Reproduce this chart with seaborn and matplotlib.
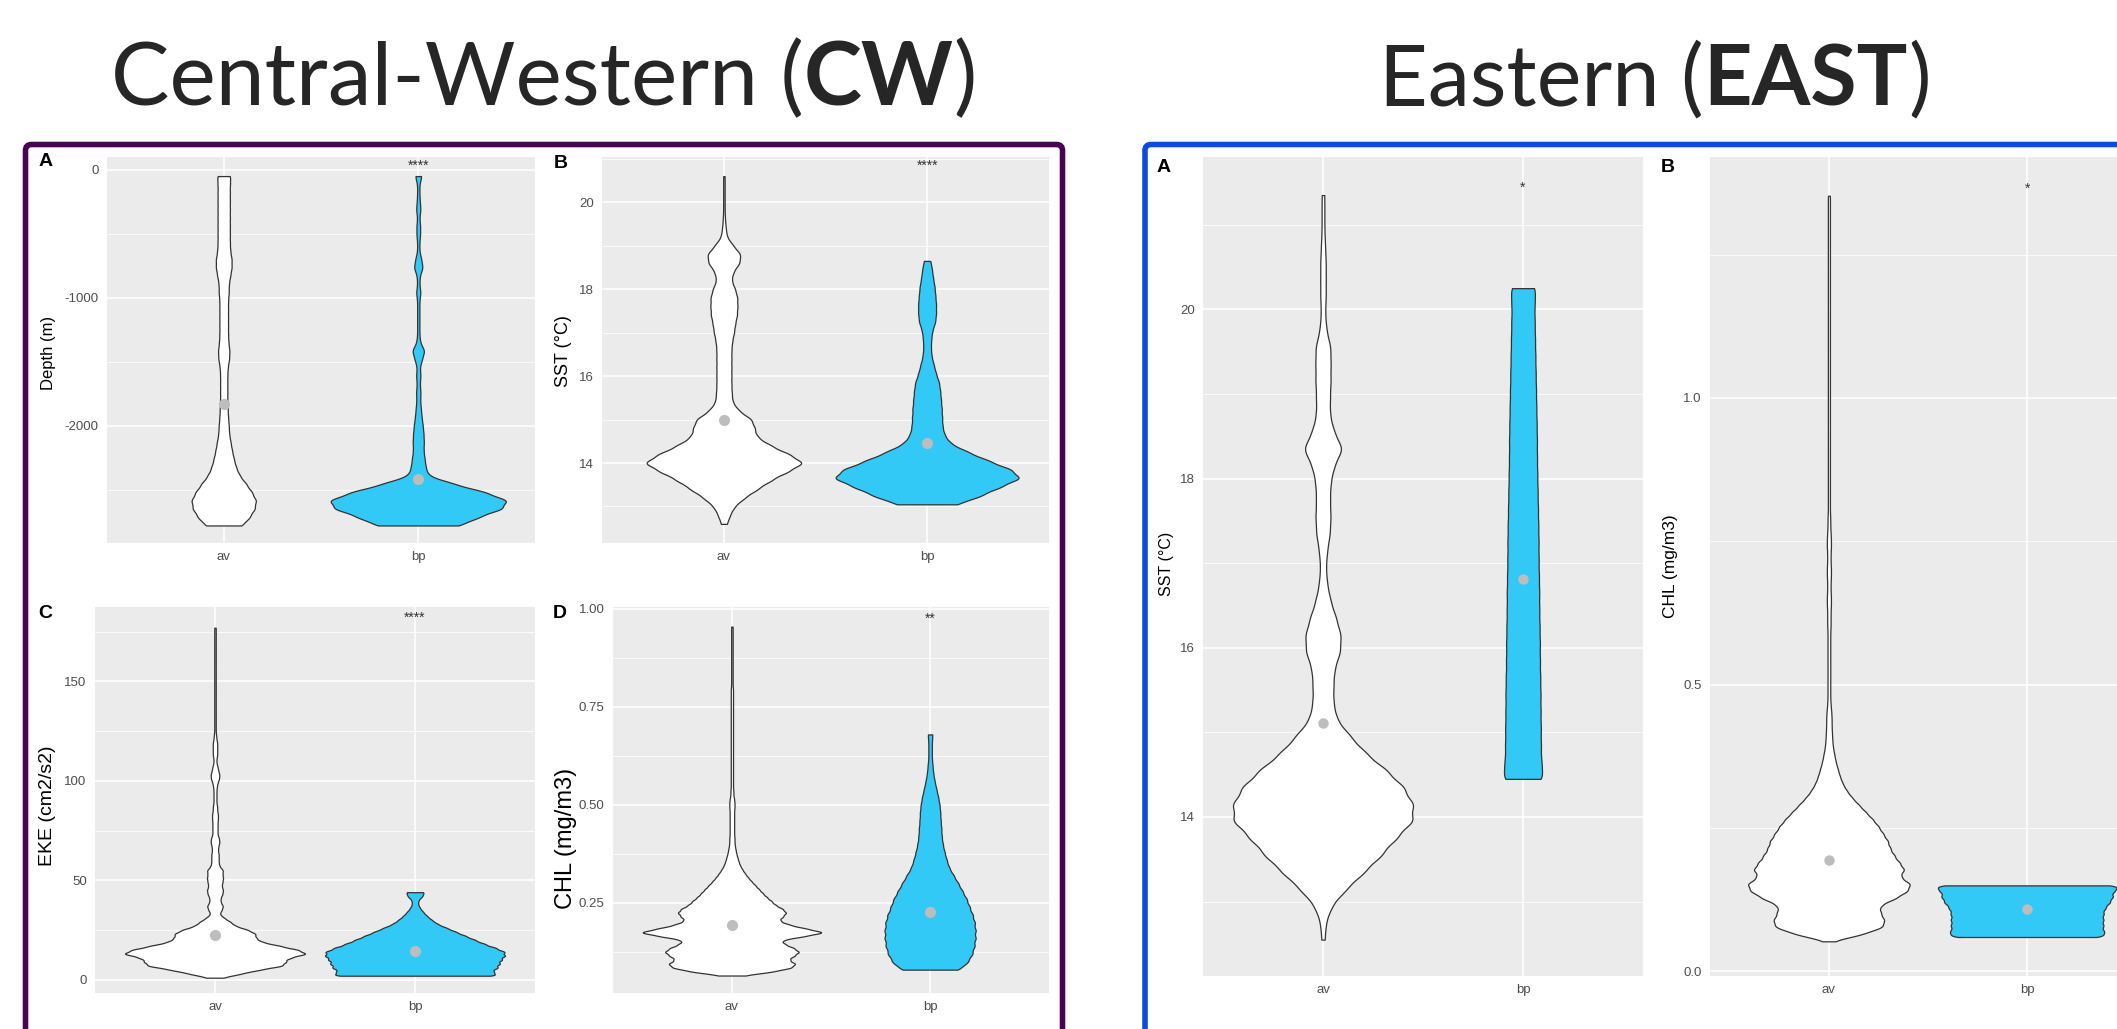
import numpy as np
import matplotlib
matplotlib.use("Agg")
import matplotlib.pyplot as plt
import matplotlib.transforms as mtrans
from matplotlib.patches import FancyBboxPatch
import seaborn as sns

sns.set_style("white")
plt.rcParams["font.family"] = ["Liberation Sans", "DejaVu Sans"]

W, H = 2117, 1029
CATS = ["av", "bp"]

# ---------------- Central-Western (CW) ----------------
depth_bins = [-50, -115, -180, -245, -310, -375, -440, -505, -570, -635, -700,
              -765, -830, -895, -960, -1025, -1090, -1155, -1220, -1285, -1350,
              -1415, -1480, -1545, -1610, -1675, -1740, -1805, -1870, -1935,
              -2000, -2065, -2130, -2195, -2260, -2325, -2390, -2455, -2520,
              -2585, -2650, -2715, -2780]
depth_av_n = [19, 17, 17, 17, 17, 17, 17, 17, 17, 18, 22, 22, 18, 14, 14, 12, 12,
              12, 12, 12, 13, 16, 15, 11, 10, 10, 10, 10, 11, 12, 14, 15, 19, 23,
              28, 34, 44, 62, 78, 90, 86, 72, 52]
depth_bp_n = [9, 3, 3, 4, 6, 3, 5, 5, 3, 3, 8, 12, 4, 3, 6, 3, 3, 3, 3, 3, 5, 17,
              10, 4, 6, 4, 6, 5, 7, 9, 12, 14, 15, 14, 17, 20, 26, 95, 180, 240,
              225, 160, 115]
depth_means = [-1828, -2414]

# B: SST (°C)
sst_cw_av_bins = [12.6, 12.8, 13.0, 13.2, 13.4, 13.6, 13.8, 14.0, 14.2, 14.4, 14.6,
                  14.8, 15.0, 15.2, 15.4, 15.6, 15.8, 16.0, 16.2, 16.4, 16.6, 16.8,
                  17.0, 17.2, 17.4, 17.6, 17.8, 18.0, 18.2, 18.4, 18.6, 18.8, 19.0,
                  19.2, 19.4, 19.6, 19.8, 20.0, 20.2, 20.4, 20.6]
sst_cw_av_n = [8, 16, 28, 55, 90, 125, 170, 215, 175, 125, 88, 82, 75, 40, 23, 21,
               20, 20, 20, 20, 20, 22, 27, 30, 35, 36, 36, 30, 20, 25, 42, 45, 25,
               8, 5, 3, 2, 2, 2, 2, 2]
sst_cw_bp_bins = [13.05, 13.25, 13.45, 13.65, 13.85, 14.05, 14.25, 14.45, 14.65,
                  14.85, 15.05, 15.25, 15.45, 15.65, 15.85, 16.05, 16.25, 16.45,
                  16.65, 16.85, 17.05, 17.25, 17.45, 17.65, 17.85, 18.05, 18.25,
                  18.45, 18.65]
sst_cw_bp_n = [82, 145, 195, 252, 225, 165, 110, 62, 46, 41, 40, 39, 37, 35, 32, 24,
               18, 12, 10, 11, 14, 22, 24, 24, 22, 20, 16, 13, 9]
sst_cw_means = [15.0, 14.46]

# C: EKE (cm2/s2), 2-unit bins
eke_av_bins = [1, 3, 5, 7, 9, 11, 13, 15, 17, 19, 21, 23, 25, 27, 29, 31, 33, 35,
               37, 39, 41, 43, 45, 47, 49, 51, 53, 55, 57, 59, 61, 63, 65, 67, 69,
               71, 73, 75, 77, 79, 81, 83, 85, 87, 89, 91, 93, 95, 97, 99, 101, 103,
               105, 107, 109, 111, 113, 115, 117, 119, 121, 123, 125, 127, 129, 131,
               133, 135, 137, 139, 141, 143, 145, 147, 149, 151, 153, 155, 157, 159,
               161, 163, 165, 167, 169, 171, 173, 175, 177]
eke_av_n = [20, 70, 120, 185, 190, 200, 250, 225, 175, 125, 110, 110, 90, 55, 42,
            25, 12, 18, 22, 15, 15, 20, 22, 18, 20, 22, 20, 22, 12, 10,
            10, 10, 8, 9, 12, 11, 7, 7, 7, 7, 8, 8, 6, 6, 4, 4, 4, 4, 5, 7,
            11, 12, 9, 7, 4, 4, 6, 6, 6, 6, 4, 3,
            2, 2, 2, 2, 2, 2, 2, 2, 2, 2, 2, 2, 2, 2, 2, 2, 2, 2, 2, 2, 2, 2, 2, 2,
            2, 2, 2]
eke_bp_bins = [2, 4, 6, 8, 10, 12, 14, 16, 18, 20, 22, 24, 26, 28, 30, 32, 34, 36,
               38, 40, 42, 44]
eke_bp_n = [230, 205, 220, 225, 230, 240, 240, 215, 185, 160, 135, 110, 85, 60, 45,
            32, 22, 13, 8, 9, 20, 25]
eke_means = [22.6, 14.2]

# D: CHL (mg/m3), 0.01 bins
chl_cw_av_bins = [0.065, 0.075, 0.085, 0.095, 0.105, 0.115, 0.125, 0.135, 0.145,
                  0.155, 0.165, 0.175, 0.185, 0.195, 0.205, 0.215, 0.225, 0.235,
                  0.245, 0.255, 0.265, 0.275, 0.285, 0.295, 0.305, 0.315, 0.325,
                  0.335, 0.345, 0.355, 0.365, 0.375, 0.385, 0.395, 0.405, 0.415,
                  0.425, 0.435, 0.445, 0.455, 0.465, 0.475, 0.485, 0.495, 0.505,
                  0.515, 0.525, 0.535, 0.545, 0.555, 0.565, 0.575, 0.585, 0.595,
                  0.605, 0.615, 0.625, 0.635, 0.645, 0.655, 0.665, 0.675, 0.685,
                  0.695, 0.705, 0.715, 0.725, 0.735, 0.745, 0.755, 0.765, 0.775,
                  0.785, 0.795, 0.805, 0.815, 0.825, 0.835, 0.845, 0.855, 0.865,
                  0.875, 0.885, 0.895, 0.905, 0.915, 0.925, 0.935, 0.945, 0.955]
chl_cw_av_n = [30, 110, 160, 170, 150, 165, 180, 165, 140, 130, 190, 250, 195, 150,
               125, 135, 145, 135, 115, 105, 92, 82, 72, 62, 52, 43, 35, 28, 22, 18,
               15, 12, 10, 8,
               7, 7, 6, 6, 6, 6, 6, 6, 6, 7, 7, 6, 4, 4, 3,
               3, 3, 3, 3, 3, 3, 3, 3, 3, 3, 3, 3, 3, 3, 3, 3, 3, 3, 3, 3, 3, 3, 3,
               3, 3,
               2, 2, 2, 2, 2, 2, 2, 2, 2, 2, 2, 2, 2, 2, 2, 2]
chl_cw_bp_bins = [0.08, 0.10, 0.12, 0.14, 0.16, 0.18, 0.20, 0.22, 0.24, 0.26, 0.28,
                  0.30, 0.32, 0.34, 0.36, 0.38, 0.40, 0.42, 0.44, 0.46, 0.48, 0.50,
                  0.52, 0.54, 0.56, 0.58, 0.60, 0.62, 0.64, 0.66, 0.68]
chl_cw_bp_n = [85, 108, 120, 126, 129, 129, 127, 121, 112, 104, 92, 80, 67, 54, 47,
               41, 36, 33, 32, 30, 29, 27, 23, 18, 13, 9, 7, 5, 5, 5, 7]
chl_cw_means = [0.193, 0.227]

# ---------------- Eastern (EAST) ----------------
sst_e_av_bins = [12.55, 12.75, 12.95, 13.15, 13.35, 13.55, 13.75, 13.95, 14.15,
                 14.35, 14.55, 14.75, 14.95, 15.15, 15.35, 15.55, 15.75, 15.95,
                 16.15, 16.35, 16.55, 16.75, 16.95, 17.15, 17.35, 17.55, 17.75,
                 17.95, 18.15, 18.35, 18.55, 18.75, 18.95, 19.15, 19.35, 19.55,
                 19.75, 19.95, 20.15, 20.35, 20.55, 20.75, 20.95, 21.15, 21.35]
sst_e_av_n = [5, 8, 25, 68, 120, 170, 212, 262, 262, 235, 185, 125, 80, 40, 30, 30,
              33, 50, 52, 38, 22, 12, 8, 12, 20, 22, 20, 22, 32, 58, 32, 20, 20, 22,
              22, 22, 10, 6, 8, 8, 8, 6, 4, 4, 4]
sst_e_bp_bins = [14.45, 14.65, 14.85, 15.05, 15.25, 15.45, 15.65, 15.85, 16.05,
                 16.25, 16.45, 16.65, 16.85, 17.05, 17.25, 17.45, 17.65, 17.85,
                 18.05, 18.25, 18.45, 18.65, 18.85, 19.05, 19.25, 19.45, 19.65,
                 19.85, 20.05, 20.25]
sst_e_bp_n = [64, 56, 55, 55, 54, 54, 53, 52, 52, 51, 50, 50, 49, 48, 48, 47, 46,
              45, 44, 43, 43, 42, 41, 40, 39, 38, 37, 36, 35, 40]
sst_e_means = [15.11, 16.81]

# CHL, 0.0125 bins
chl_e_av_bins = [0.0525, 0.065, 0.0775, 0.09, 0.1025, 0.115, 0.1275, 0.14, 0.1525,
                 0.165, 0.1775, 0.19, 0.2025, 0.215, 0.2275, 0.24, 0.2525, 0.265,
                 0.2775, 0.29, 0.3025, 0.315, 0.3275, 0.34, 0.3525, 0.365, 0.3775,
                 0.39, 0.4025, 0.415, 0.4275, 0.44, 0.4525, 0.465, 0.4775, 0.49,
                 0.5025, 0.515, 0.5275, 0.54, 0.5525, 0.565, 0.5775, 0.59, 0.6025,
                 0.615, 0.6275, 0.64, 0.6525, 0.665, 0.6775, 0.69, 0.7025, 0.715,
                 0.7275, 0.74, 0.7525, 0.765, 0.7775, 0.79, 0.8025, 0.815, 0.8275,
                 0.84, 0.8525, 0.865, 0.8775, 0.89, 0.9025, 0.915, 0.9275, 0.94,
                 0.9525, 0.965, 0.9775, 0.99, 1.0025, 1.015, 1.0275, 1.04, 1.0525,
                 1.065, 1.0775, 1.09, 1.1025, 1.115, 1.1275, 1.14, 1.1525, 1.165,
                 1.1775, 1.19, 1.2025, 1.215, 1.2275, 1.24, 1.2525, 1.265, 1.2775,
                 1.29, 1.3025, 1.315, 1.3275, 1.34, 1.3525]
chl_e_av_n = [8, 100, 160, 162, 150, 148, 195, 230, 240, 205, 222, 205, 190, 178,
              172, 158, 145, 128, 108, 88, 68, 52, 40, 32, 26,
              20, 16, 12, 10, 9, 8, 8, 7, 5, 4,
              4, 4, 4, 4, 4, 4, 4, 4, 4,
              5, 5, 5, 6, 6, 5, 5, 6, 6, 5, 5, 6, 6, 5, 4, 4,
              3, 3, 3, 3, 3, 3, 3, 3, 3, 3, 3, 3, 3, 3, 3, 3, 3, 3, 3, 3, 3, 3, 3,
              3, 3, 3, 3, 3, 3, 3, 3, 3, 3, 3, 3, 3, 3, 3, 3, 3, 3, 3, 3, 3, 3]
chl_e_bp_bins = [0.06, 0.07, 0.08, 0.09, 0.10, 0.11, 0.12, 0.13, 0.14, 0.15]
chl_e_bp_n = [250, 235, 235, 235, 235, 240, 255, 265, 265, 300]
chl_e_means = [0.194, 0.109]

PANEL = "#EBEBEB"
EDGE = "#333333"
BLUE_FILL = "#33C9F7"
MEAN_C = "#BDBDBD"

fig = plt.figure(figsize=(W / 100, H / 100), dpi=100)


def add_ax(left, top, right, bottom):
    return fig.add_axes([left / W, 1 - bottom / H, (right - left) / W, (bottom - top) / H])


def draw_violin(ax, cat, bins, counts, bw, width, fill):
    y = np.repeat(np.array(bins, dtype=float), counts)
    sns.violinplot(x=[cat] * len(y), y=y, order=CATS, ax=ax, cut=0, inner=None,
                   density_norm="width", width=width, bw_method=bw / y.std(ddof=1),
                   gridsize=800, color=fill, saturation=1, linecolor=EDGE,
                   linewidth=0.9)


def finish(ax, means, ylim, ticks, labels, minor, star, star_y, msize):
    sns.stripplot(x=CATS, y=means, order=CATS, jitter=False, color=MEAN_C,
                  size=msize, linewidth=0, ax=ax, zorder=5)
    ax.set_facecolor(PANEL)
    ax.set_xlim(-0.6, 1.6)
    ax.set_ylim(*ylim)
    ax.set_yticks(ticks, labels)
    ax.set_yticks(minor, minor=True)
    ax.set_xticks([0, 1], CATS)
    ax.grid(which="major", color="white", lw=1.1)
    ax.grid(which="minor", axis="y", color="white", lw=0.55)
    ax.set_axisbelow(True)
    for s in ax.spines.values():
        s.set_visible(False)
    ax.tick_params(which="major", length=3.5, width=0.8, color="#333333",
                   labelcolor="#4D4D4D", labelsize=9.5, pad=2.5)
    ax.tick_params(which="minor", length=0)
    ax.set_xlabel("")
    ax.set_ylabel("")
    ax.text(1, star_y, star, ha="center", va="center", fontsize=10, color="#333333")


def fig_text(x, y, s, **kw):
    fig.text(x / W, 1 - y / H, s, ha="center", va="center", **kw)


# CW A
ax = add_ax(107, 157, 535, 543)
draw_violin(ax, "av", depth_bins, depth_av_n, 34, 0.33, "white")
draw_violin(ax, "bp", depth_bins, depth_bp_n, 34, 0.9, BLUE_FILL)
finish(ax, depth_means, (-2917, 99), [-2000, -1000, 0], ["-2000", "-1000", "0"],
       [-2500, -1500, -500], "****", 30, 8)

# CW B
ax = add_ax(602, 157, 1049, 543)
draw_violin(ax, "av", sst_cw_av_bins, sst_cw_av_n, 0.105, 0.76, "white")
draw_violin(ax, "bp", sst_cw_bp_bins, sst_cw_bp_n, 0.105, 0.9, BLUE_FILL)
finish(ax, sst_cw_means, (12.16, 21.04), [14, 16, 18, 20], ["14", "16", "18", "20"],
       [13, 15, 17, 19, 21], "****", 20.84, 8)

# CW C
ax = add_ax(95, 607, 535, 993)
draw_violin(ax, "av", eke_av_bins, eke_av_n, 1.05, 0.9, "white")
draw_violin(ax, "bp", eke_bp_bins, eke_bp_n, 1.05, 0.9, BLUE_FILL)
finish(ax, eke_means, (-6.7, 187.4), [0, 50, 100, 150], ["0", "50", "100", "150"],
       [25, 75, 125, 175], "****", 182, 8)

# CW D
ax = add_ax(613, 607, 1049, 993)
draw_violin(ax, "av", chl_cw_av_bins, chl_cw_av_n, 0.0053, 0.9, "white")
draw_violin(ax, "bp", chl_cw_bp_bins, chl_cw_bp_n, 0.0105, 0.46, BLUE_FILL)
finish(ax, chl_cw_means, (0.0204, 1.005), [0.25, 0.5, 0.75, 1.0],
       ["0.25", "0.50", "0.75", "1.00"], [0.125, 0.375, 0.625, 0.875], "**", 0.975, 8)

# EAST A
ax = add_ax(1203, 157, 1643, 976)
draw_violin(ax, "av", sst_e_av_bins, sst_e_av_n, 0.105, 0.9, "white")
draw_violin(ax, "bp", sst_e_bp_bins, sst_e_bp_n, 0.11, 0.19, BLUE_FILL)
finish(ax, sst_e_means, (12.12, 21.80), [14, 16, 18, 20], ["14", "16", "18", "20"],
       [13, 15, 17, 19, 21], "*", 21.44, 7.5)

# EAST B (runs off the right edge, as in the original)
ax = add_ax(1710, 157, 2146, 976)
draw_violin(ax, "av", chl_e_av_bins, chl_e_av_n, 0.0068, 0.815, "white")
draw_violin(ax, "bp", chl_e_bp_bins, chl_e_bp_n, 0.0055, 0.9, BLUE_FILL)
finish(ax, chl_e_means, (-0.008, 1.42), [0, 0.5, 1.0], ["0.0", "0.5", "1.0"],
       [0.25, 0.75, 1.25], "*", 1.365, 7.5)

# axis titles and panel letters
for x, y, s, fs in [(48, 353, "Depth (m)", 12), (563, 351, "SST (°C)", 13),
                    (48, 806, "EKE (cm2/s2)", 14), (566, 838, "CHL (mg/m3)", 17),
                    (1167, 564, "SST (°C)", 11.5), (1670, 566, "CHL (mg/m3)", 12.5)]:
    fig_text(x, y, s, rotation=90, fontsize=fs, color="black")
for x, y, s in [(46, 162, "A"), (561, 163, "B"), (45, 613, "C"), (560, 613, "D"),
                (1164, 168, "A"), (1668, 168, "B")]:
    fig_text(x, y, s, fontsize=14, fontweight="bold", color="black")

# region frames
ident = mtrans.IdentityTransform()
for x0, x1, col in [(25.5, 1062.5, "#4A0054"), (1145, 2260, "#0A4CDB")]:
    fig.patches.append(FancyBboxPatch((x0, -60), x1 - x0, H - 144.5 + 60,
                                      boxstyle="round,pad=0,rounding_size=6",
                                      fill=False, edgecolor=col, lw=4,
                                      transform=ident, figure=fig))

# titles with a bold abbreviation
renderer = fig.canvas.get_renderer()


def title(cx, base_y, parts, target_w):
    txts = [fig.text(0, 1 - base_y / H, s, fontsize=60, fontweight=wt,
                     family=["Lato", "DejaVu Sans"], va="baseline") for s, wt in parts]
    total = sum(t.get_window_extent(renderer).width for t in txts)
    k = target_w / total
    x = cx - target_w / 2
    for t in txts:
        t.set_fontsize(60 * k)
        t.set_x(x / W)
        x += t.get_window_extent(renderer).width


title(545, 105, [("Central-Western (", "normal"), ("CW", "bold"), (")", "normal")], 868)
title(1655, 105, [("Eastern (", "normal"), ("EAST", "bold"), (")", "normal")], 552)

fig.savefig("out.png", dpi=100)
